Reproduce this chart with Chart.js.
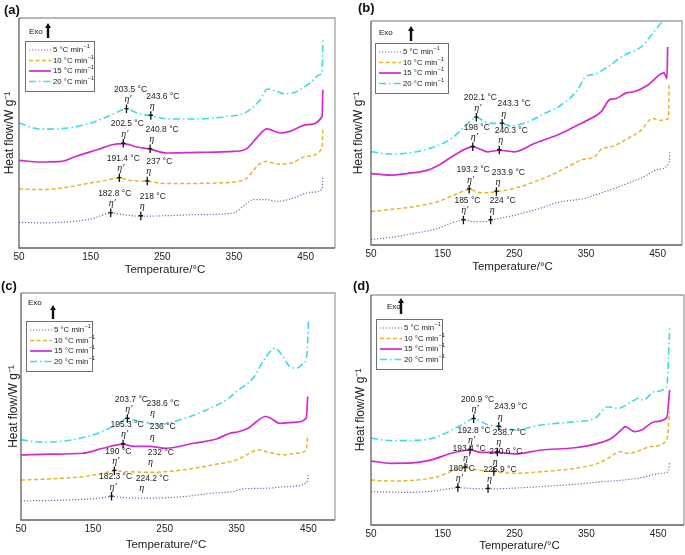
<!DOCTYPE html>
<html>
<head>
<meta charset="utf-8">
<script src="https://cdn.jsdelivr.net/npm/chart.js@4.4.0/dist/chart.umd.min.js"></script>
<style>
body { margin: 0; background: #fff; }
#wrap { position: relative; width: 685px; height: 555px; }
canvas { position: absolute; }
</style>
</head>
<body>
<div id="wrap">
<canvas id="ca" width="342" height="278" style="left:0;top:0"></canvas>
<canvas id="cb" width="343" height="278" style="left:342px;top:0"></canvas>
<canvas id="cc" width="342" height="277" style="left:0;top:278px"></canvas>
<canvas id="cd" width="343" height="277" style="left:342px;top:278px"></canvas>
</div>
<script>
// tick labels and legend entries
const xTicks = [50, 150, 250, 350, 450];
const rateLabels = ['5 °C min', '10 °C min', '15 °C min', '20 °C min'];

// [temperature, heat flow (arb. units, 0 = bottom of frame, 100 = top)]
// panel (a)
const a5  = [[50,11.2],[80,10.9],[110,11.2],[150,12.6],[165,14.1],[178,15.2],[195,14.5],[220,13.8],[260,14.1],[300,14.5],[349,15.2],[363,18.1],[377,21.0],[396,21.0],[410,20.3],[433,21.7],[456,24.2],[473,25.7],[474,31.2]];
const a10 = [[50,25.7],[80,25.4],[110,26.1],[150,28.3],[170,29.4],[190,30.4],[205,29.4],[229,29.0],[255,28.0],[300,28.1],[350,28.7],[368,30.4],[378,34.1],[388,37.0],[395,37.7],[410,36.5],[428,36.8],[452,39.9],[473,43.5],[474,52.2]];
const a15 = [[50,38.1],[80,37.4],[110,37.7],[130,39.9],[160,42.8],[180,44.9],[195.5,45.4],[215,43.9],[233,43.0],[256,41.3],[300,41.6],[350,42.0],[368,43.2],[382,48.0],[396,51.8],[415,50.0],[428,50.7],[452,53.6],[473,57.2],[474,68.8]];
const a20 = [[50,54.3],[80,51.7],[120,52.2],[150,54.3],[180,58.0],[200,60.4],[215,58.7],[234,57.5],[260,56.1],[300,56.1],[340,57.2],[365,58.7],[385,63.8],[397,69.1],[410,68.0],[420,67.1],[435,67.7],[456,71.7],[470,75.4],[473,76.5],[474,91.3]];

// panel (b)
const b5  = [[50,2.5],[78,3.4],[110,5.2],[143,7.4],[161,9.7],[179,11.1],[194,10.4],[208,10.4],[217,11.1],[241,12.6],[278,15.6],[315,19.3],[334,20.1],[348,20.8],[362,22.3],[390,25.3],[408,27.5],[431,30.5],[450,33.7],[466,36.7],[467,41.6]];
const b10 = [[50,14.9],[78,15.9],[110,17.1],[143,19.3],[171,23.0],[187,24.8],[203,23.3],[225,23.8],[250,25.3],[278,28.2],[306,31.9],[329,35.7],[343,37.9],[362,39.4],[373,43.1],[385,43.8],[408,47.5],[427,51.3],[443,56.5],[455,55.7],[465,56.5],[466,71.3]];
const b15 = [[50,31.9],[78,31.2],[100,31.9],[129,33.4],[148,36.3],[166,40.1],[192,43.8],[213,41.6],[229,42.3],[250,41.6],[278,45.3],[315,49.8],[338,53.5],[352,55.7],[371,59.4],[383,64.9],[392,65.4],[406,67.9],[417,68.4],[436,71.3],[452,75.8],[459,76.8],[463,74.3],[464,88.4]];
const b20 = [[50,41.6],[78,40.6],[108,41.3],[138,43.8],[162,47.5],[180,52.6],[197,56.9],[213,54.5],[233,54.2],[245,53.1],[269,55.0],[292,58.7],[315,62.4],[338,69.1],[350,75.3],[362,76.2],[380,79.5],[403,84.7],[427,88.4],[441,93.6],[457,99.9],[470,103]];

// panel (c)
const c5  = [[50,8.4],[113,8.8],[159,9.6],[176,10.3],[206,9.6],[229,9.6],[276,10.3],[317,11.8],[345,12.5],[359,13.7],[392,14.0],[420,14.7],[448,16.6],[450,19.9]];
const c10 = [[50,17.6],[89,18.1],[136,19.1],[164,20.6],[180,21.6],[197,21.3],[229,21.0],[276,22.1],[317,24.3],[350,26.5],[364,28.7],[380,30.9],[392,30.1],[415,28.7],[434,29.4],[447,30.9],[449,37.5]];
const c15 = [[50,28.7],[89,29.0],[136,29.4],[164,31.6],[192,33.4],[206,32.4],[229,32.4],[252,31.6],[290,33.8],[322,35.7],[341,38.2],[350,38.7],[366,40.4],[378,43.4],[390,45.6],[397,44.9],[410,42.6],[434,43.1],[447,44.9],[449,54.4]];
const c20 = [[50,35.3],[80,34.3],[113,34.9],[150,37.5],[183,41.9],[198,44.6],[215,43.4],[243,42.2],[271,44.1],[308,48.5],[336,52.9],[350,56.6],[373,62.5],[387,69.9],[399,75.0],[403,75.7],[413,72.8],[424,67.6],[434,66.9],[443,69.1],[448,72.8],[450,88.2]];

// panel (d)
const d5  = [[50,14.5],[101,14.2],[138,14.8],[162,15.9],[171,16.2],[190,15.9],[211,15.7],[241,15.9],[287,16.7],[334,17.7],[371,18.8],[403,19.6],[427,20.6],[455,22.5],[464,23.2],[466,27.2]];
const d10 = [[50,19.6],[78,19.1],[115,19.6],[143,21.0],[166,23.9],[181,24.9],[199,23.9],[221,23.2],[250,22.5],[287,23.2],[334,24.6],[366,26.8],[380,29.0],[397,31.9],[408,31.2],[417,31.6],[441,34.1],[462,37.0],[466,49.3]];
const d15 = [[50,27.8],[78,26.8],[115,27.2],[134,28.3],[162,31.2],[188,32.6],[203,31.6],[226,31.6],[250,30.9],[287,32.6],[334,33.6],[366,35.5],[385,37.7],[401,42.0],[404,42.8],[417,40.6],[427,41.3],[445,44.9],[462,46.7],[466,58.7]];
const d20 = [[50,37.7],[78,36.7],[124,37.0],[148,39.1],[176,43.5],[193,46.1],[213,43.5],[228,42.8],[250,41.3],[287,43.5],[334,44.9],[362,46.4],[380,51.4],[394,50.7],[413,53.6],[424,55.1],[429,54.3],[445,58.0],[462,60.1],[466,85.5]];

// peaks: [series, temperature of mark in picture, label, symbol, marker drawn]
const peaksA = [[0,178,'182.8 °C','η′',1],[0,220,'218 °C','η',1],[1,190,'191.4 °C','η′',1],[1,229,'237 °C','η',1],
                [2,195.5,'202.5 °C','η′',1],[2,233,'240.8 °C','η',1],[3,200,'203.5 °C','η′',1],[3,234,'243.6 °C','η',1]];
const peaksB = [[0,179,'185 °C','η′',1],[0,217,'224 °C','η',1],[1,187,'193.2 °C','η′',1],[1,225,'233.9 °C','η',1],
                [2,192,'198 °C','η′',1],[2,229,'240.3 °C','η',1],[3,197,'202.1 °C','η′',1],[3,233,'243.3 °C','η',1]];
const peaksC = [[0,176,'182.3 °C','η′',1],[0,216,'224.2 °C','η',0],[1,180,'190 °C','η′',1],[1,228,'232 °C','η',0],
                [2,192,'195.3 °C','η′',1],[2,230.5,'236 °C','η',0],[3,198,'203.7 °C','η′',1],[3,231,'238.6 °C','η',0]];
const peaksD = [[0,171,'180 °C','η′',1],[0,213,'225.9 °C','η',1],[1,181,'193.4 °C','η′',1],[1,221,'230.6 °C','η',1],
                [2,188,'192.8 °C','η′',1],[2,226,'238.7 °C','η',1],[3,193,'200.9 °C','η′',1],[3,228,'243.9 °C','η',1]];

const styles = [
  {color: '#8262ad', width: 1.2, dash: [1.2, 1.8]},
  {color: '#e8b42a', width: 1.5, dash: [4, 2.5]},
  {color: '#d02ad0', width: 1.7, dash: []},
  {color: '#3edbe4', width: 1.6, dash: [7, 3, 1.5, 3]}
];

Chart.defaults.font.family = '"Liberation Sans", Arial, sans-serif';

// layout of each panel (pixels)
const panels = [
  {id: 'ca', letter: '(a)', lx: 4, ly: 10, series: [a5, a10, a15, a20], peaks: peaksA, xMax: 491,
   pad: [18, 7], yW: 19, xH: 30, ytPad: 2, xt: [-12, 270], leg: [6, 23, 69, 4, -9, 23, -18, -3]},
  {id: 'cb', letter: '(b)', lx: 16, ly: 8, series: [b5, b10, b15, b20], peaks: peaksB, xMax: 484,
   pad: [21, 3], yW: 29, xH: 33, ytPad: 9, xt: [-14, 266.5], leg: [4, 22, 73, 4, -10, 36, -17, -2]},
  {id: 'cc', letter: '(c)', lx: 1, ly: 8, series: [c5, c10, c15, c20], peaks: peaksC, xMax: 487,
   pad: [15, 7], yW: 21, xH: 35, ytPad: 6, xt: [-12, 266.5], leg: [5, 28, 66, 2, -18, 27, -16, -2]},
  {id: 'cd', letter: '(d)', lx: 11, ly: 8, series: [d5, d10, d15, d20], peaks: peaksD, xMax: 486,
   pad: [17, 1], yW: 29, xH: 30, ytPad: 11, xt: [-8, 268], leg: [5, 24, 66, 11, -12, 25, -21, -5]}
];

function valueAt(arr, t) {
  for (let i = 1; i < arr.length; i++) {
    if (t <= arr[i][0]) {
      const f = (t - arr[i-1][0]) / (arr[i][0] - arr[i-1][0]);
      return arr[i-1][1] + f * (arr[i][1] - arr[i-1][1]);
    }
  }
  return arr[arr.length - 1][1];
}

function decor(p) {
  return {
    id: 'decor',
    afterDraw(chart) {
      const ctx = chart.ctx, a = chart.chartArea;
      const xs = chart.scales.x, ys = chart.scales.y;
      ctx.save();

      // frame
      ctx.lineWidth = 1.3;
      ctx.strokeStyle = '#a0a0a0';
      ctx.beginPath();
      ctx.moveTo(a.left, a.top); ctx.lineTo(a.right, a.top); ctx.lineTo(a.right, a.bottom);
      ctx.stroke();
      ctx.strokeStyle = '#606060';
      ctx.beginPath();
      ctx.moveTo(a.left, a.top); ctx.lineTo(a.left, a.bottom); ctx.lineTo(a.right, a.bottom);
      ctx.stroke();

      // panel letter
      ctx.fillStyle = '#111';
      ctx.font = 'bold 13px "Liberation Sans", Arial, sans-serif';
      ctx.textAlign = 'left'; ctx.textBaseline = 'middle';
      ctx.fillText(p.letter, p.lx, p.ly);

      // x axis title (sits a bit left of centre in the original)
      ctx.fillStyle = '#222';
      ctx.font = '11.5px "Liberation Sans", Arial, sans-serif';
      ctx.textAlign = 'center';
      ctx.fillText('Temperature/°C', (a.left + a.right) / 2 + p.xt[0], p.xt[1]);

      // legend box
      const L = p.leg;
      const bx = a.left + L[0], by = a.top + L[1], bw = L[2], bh = 50;
      ctx.fillStyle = '#fff';
      ctx.fillRect(bx, by, bw, bh);
      ctx.strokeStyle = '#707070'; ctx.lineWidth = 1;
      ctx.strokeRect(bx + 0.5, by + 0.5, bw, bh);
      const rows = [9, 19.5, 30, 40.5];
      rows.forEach((ry, i) => {
        const st = styles[i];
        ctx.strokeStyle = st.color; ctx.lineWidth = st.width; ctx.setLineDash(st.dash);
        ctx.beginPath(); ctx.moveTo(bx + 4, by + ry); ctx.lineTo(bx + 26, by + ry); ctx.stroke();
        ctx.setLineDash([]);
        ctx.fillStyle = '#222';
        ctx.font = '7.8px "Liberation Sans", Arial, sans-serif';
        ctx.textAlign = 'left'; ctx.textBaseline = 'middle';
        const tx = bx + 28;
        ctx.fillText(rateLabels[i], tx, by + ry);
        const w = ctx.measureText(rateLabels[i]).width;
        ctx.font = '5.5px "Liberation Sans", Arial, sans-serif';
        ctx.fillText('−1', tx + w + 0.5, by + ry - 3.3);
      });

      // Exo arrow
      ctx.fillStyle = '#111';
      ctx.font = '8px "Liberation Sans", Arial, sans-serif';
      ctx.textAlign = 'left'; ctx.textBaseline = 'middle';
      ctx.fillText('Exo', bx + L[3], by + L[4]);
      const ax = bx + L[5];
      ctx.strokeStyle = '#111'; ctx.lineWidth = 2.4;
      ctx.beginPath(); ctx.moveTo(ax, by + L[7]); ctx.lineTo(ax, by + L[6] + 4); ctx.stroke();
      ctx.beginPath();
      ctx.moveTo(ax, by + L[6]); ctx.lineTo(ax - 3, by + L[6] + 5); ctx.lineTo(ax + 3, by + L[6] + 5);
      ctx.closePath(); ctx.fill();

      // peak marks and labels
      p.peaks.forEach(pk => {
        const px = xs.getPixelForValue(pk[1]);
        const py = ys.getPixelForValue(valueAt(p.series[pk[0]], pk[1]));
        if (pk[4]) {
          ctx.strokeStyle = '#111'; ctx.lineWidth = 1.3;
          ctx.beginPath();
          ctx.moveTo(px, py - 4.5); ctx.lineTo(px, py + 4);
          ctx.moveTo(px - 2.2, py - 0.5); ctx.lineTo(px + 2.2, py - 0.5);
          ctx.stroke();
        }
        ctx.fillStyle = '#222';
        ctx.textAlign = 'center'; ctx.textBaseline = 'middle';
        ctx.font = 'italic 10px "Liberation Serif", "DejaVu Serif", serif';
        ctx.fillText(pk[3], px + 1.5, py - 9.5);
        ctx.font = '8.5px "Liberation Sans", Arial, sans-serif';
        ctx.fillText(pk[2], px + (pk[3] === 'η′' ? 4 : 12), py - 19.5);
      });

      ctx.restore();
    }
  };
}

function makeChart(p) {
  new Chart(document.getElementById(p.id), {
    type: 'line',
    data: {
      datasets: p.series.map((s, i) => ({
        label: rateLabels[i],
        data: s.map(d => ({x: d[0], y: d[1]})),
        borderColor: styles[i].color,
        borderWidth: styles[i].width,
        borderDash: styles[i].dash,
        pointRadius: 0,
        fill: false,
        cubicInterpolationMode: 'monotone'
      }))
    },
    options: {
      responsive: false,
      animation: false,
      layout: {padding: {top: p.pad[0], right: p.pad[1], left: 0, bottom: 0}},
      plugins: {legend: {display: false}, tooltip: {enabled: false}},
      scales: {
        x: {
          type: 'linear', min: 50, max: p.xMax,
          afterBuildTicks: s => { s.ticks = xTicks.map(v => ({value: v})); },
          grid: {display: false, drawTicks: false},
          border: {display: false},
          ticks: {padding: 3, color: '#222', font: {size: 10}, maxRotation: 0, autoSkip: false},
          title: {display: false},
          afterFit: s => { s.height = p.xH; }
        },
        y: {
          min: 0, max: 100,
          grid: {display: false, drawTicks: false},
          border: {display: false},
          ticks: {display: false},
          title: {display: true, text: 'Heat flow/W g⁻¹', color: '#222', font: {size: 12},
                  padding: {top: p.ytPad, bottom: 0}},
          afterFit: s => { s.width = p.yW; }
        }
      }
    },
    plugins: [decor(p)]
  });
}

panels.forEach(makeChart);
</script>
</body>
</html>
